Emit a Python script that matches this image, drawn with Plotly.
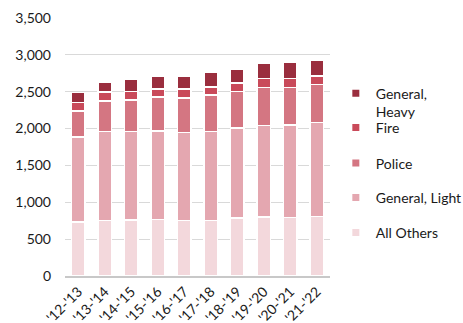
import plotly.graph_objects as go

years = ["'12-'13", "'13-'14", "'14-'15", "'15-'16", "'16-'17",
         "'17-'18", "'18-'19", "'19-'20", "'20-'21", "'21-'22"]

all_others = [735, 752, 760, 765, 755, 755, 785, 800, 795, 805]
general_light = [1148, 1208, 1200, 1205, 1195, 1205, 1220, 1240, 1255, 1275]
police = [354, 413, 430, 455, 465, 495, 495, 520, 510, 515]
fire = [117, 123, 113, 115, 120, 110, 115, 120, 120, 115]
general_heavy = [136, 134, 160, 170, 180, 200, 195, 210, 215, 215]

series = [
    ("All Others", all_others, "#F3D8DC"),
    ("General, Light", general_light, "#E4A7B0"),
    ("Police", police, "#D47682"),
    ("Fire", fire, "#C94A5A"),
    ("General,<br>Heavy", general_heavy, "#9A2E3E"),
]

font_family = "Lato, 'Open Sans', sans-serif"
text_color = "#1a1a1a"

fig = go.Figure()
legend_names = ["legend5", "legend4", "legend3", "legend2", "legend"]
for (name, vals, color), lg in zip(series, legend_names):
    fig.add_trace(go.Bar(
        x=years, y=vals, name=name, showlegend=False,
        marker=dict(color=color, line=dict(color="white", width=1.5)),
        width=0.5,
    ))
    fig.add_trace(go.Scatter(
        x=[None], y=[None], mode="markers", name=name, legend=lg,
        marker=dict(symbol="square", size=7, color=color),
        showlegend=True,
    ))

legend_y = {"legend": 0.672, "legend2": 0.574, "legend3": 0.436,
            "legend4": 0.303, "legend5": 0.167}
legend_common = dict(
    x=1.022, xanchor="left", yanchor="middle", bgcolor="rgba(0,0,0,0)",
    font=dict(family=font_family, size=14, color=text_color),
    itemsizing="trace", valign="top",
)

layout_legends = {k: dict(y=v, **legend_common) for k, v in legend_y.items()}

fig.update_layout(
    barmode="stack",
    width=463, height=323,
    margin=dict(l=65, r=133, t=18, b=47, pad=0, autoexpand=False),
    paper_bgcolor="white", plot_bgcolor="white",
    font=dict(family=font_family, size=14, color=text_color),
    bargap=0.5,
    **layout_legends,
)
fig.update_yaxes(
    range=[0, 3500], dtick=500, tickformat=",d",
    showgrid=True, gridcolor="#d9d9d9", gridwidth=1,
    zeroline=False, showline=False, ticks="", ticklabelstandoff=13,
    tickfont=dict(family=font_family, size=14, color=text_color),
    automargin=False,
)
fig.update_xaxes(
    tickangle=-45, showline=True, linecolor="#c8c8c8", linewidth=2,
    showgrid=False, ticks="", automargin=False,
    tickfont=dict(family=font_family, size=14, color=text_color),
)

fig.write_html("out.html")
